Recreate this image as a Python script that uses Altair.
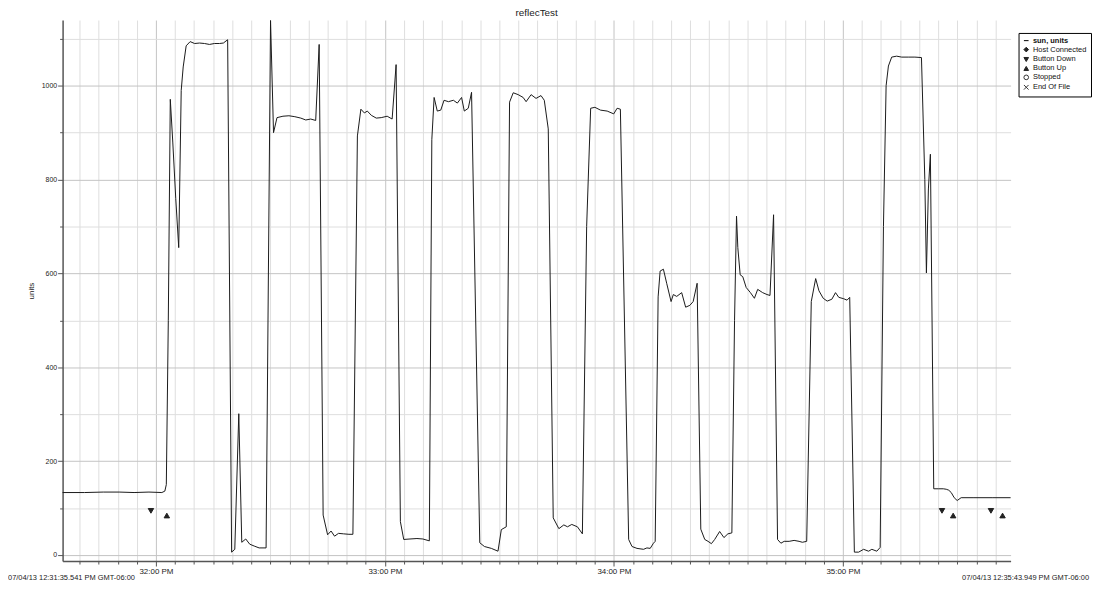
import altair as alt
import pandas as pd

# ---- sensor series: seconds after 12:31:00 PM, value in units ----
sun_sec = [35.54, 41.26, 46.20, 50.37, 54.27, 58.17, 61.55, 62.33, 62.72, 63.24, 63.76, 64.41,
           65.19, 65.97, 66.62, 67.14, 67.92, 68.96, 70.13, 71.43, 72.73, 74.03, 75.33, 76.63,
           77.67, 78.79, 79.83, 80.66, 81.71, 82.49, 83.53, 84.57, 85.74, 87.04, 88.86, 90.03,
           90.81, 91.72, 93.28, 94.84, 96.40, 97.96, 99.26, 100.56, 101.86, 102.77, 103.81,
           104.98, 105.89, 106.80, 107.84, 109.14, 110.57, 111.61, 112.79, 113.70, 114.61,
           115.39, 116.43, 117.73, 119.03, 120.59, 121.89, 122.93, 124.05, 124.93, 126.57,
           128.39, 129.95, 131.64, 132.29, 132.89, 133.72, 134.63, 135.49, 136.64, 137.94,
           138.98, 140.09, 140.80, 141.84, 142.70, 144.85, 146.07, 147.89, 149.63, 150.50,
           151.80, 152.66, 153.62, 154.92, 156.22, 157.00, 158.30, 159.60, 160.90, 161.76,
           162.80, 164.10, 165.58, 166.88, 167.84, 168.96, 170.44, 171.74, 172.86, 173.91,
           175.02, 176.50, 178.24, 179.96, 180.84, 181.70, 183.87, 184.75, 186.05, 187.77,
           188.65, 189.51, 190.37, 190.82, 191.59, 192.11, 192.97, 193.86, 194.98, 195.57,
           196.46, 197.76, 198.80, 199.91, 200.77, 201.81, 202.77, 203.81, 204.67, 205.55,
           206.41, 207.71, 208.83, 209.87, 210.91, 211.61, 212.13, 212.47, 213.09, 213.77,
           214.66, 215.78, 216.82, 217.68, 218.98, 220.12, 220.90, 221.84, 222.88, 223.76,
           224.62, 225.92, 227.22, 228.52, 229.38, 230.52, 231.72, 232.87, 233.73, 234.85,
           235.89, 237.11, 238.07, 238.93, 240.23, 241.09, 241.79, 243.01, 244.13, 245.43,
           246.73, 247.59, 248.89, 249.77, 250.63, 251.33, 251.93, 252.79, 254.09, 255.39,
           257.13, 258.87, 260.59, 261.47, 261.89, 262.41, 262.93, 263.81, 265.01, 266.31,
           267.09, 267.74, 268.39, 269.17, 269.95, 270.99, 274.11, 279.31, 283.95]
sun_val = [133, 133, 134, 134, 133, 134, 133, 136, 150, 500, 971, 880,
           760, 655, 990, 1040, 1085, 1094, 1090, 1091, 1090, 1088, 1090, 1090,
           1091, 1098, 6, 12, 301, 27, 34, 23, 19, 15, 15, 1139,
           900, 932, 935, 936, 934, 931, 927, 929, 926, 1088, 85,
           43, 51, 40, 46, 45, 44, 44, 893, 950, 942,
           946, 937, 931, 932, 935, 929, 1045, 71, 33, 34,
           35, 34, 30, 885, 975, 946, 948, 969, 966, 969,
           963, 975, 946, 952, 986, 26, 18, 14, 8, 54,
           60, 965, 985, 981, 975, 966, 981, 973, 979, 969,
           908, 79, 56, 64, 60, 65, 60, 45, 700, 952,
           954, 948, 946, 940, 952, 950, 33, 18, 14, 12,
           15, 14, 25, 29, 550, 605, 609, 578, 540, 555,
           551, 559, 528, 532, 540, 579, 55, 33, 29, 24,
           33, 50, 37, 45, 47, 500, 722, 655, 597, 593,
           570, 559, 547, 566, 559, 555, 553, 725, 33, 25,
           29, 29, 31, 29, 27, 29, 540, 589, 563, 547,
           541, 545, 559, 549, 546, 543, 549, 6, 6, 12,
           8, 12, 8, 16, 700, 1000, 1042, 1061, 1063, 1061,
           1061, 1061, 1060, 800, 601, 780, 854, 141, 141, 141,
           140, 138, 133, 122, 116, 122, 122, 122, 122]

# ---- event markers ----
evt_name = ["Button Down", "Button Up", "Button Down", "Button Up", "Button Down", "Button Up"]
evt_sec = [58.69, 62.85, 265.97, 268.90, 278.80, 281.84]
evt_val = [94, 84, 94, 84, 94, 84]

legend_names = ["sun, units", "Host Connected", "Button Down", "Button Up", "Stopped", "End Of File"]
legend_shapes = ["stroke", "diamond", "triangle-down", "triangle-up", "circle",
                 "M-1,-1L1,1M1,-1L-1,1"]
legend_fills = ["#000000", "#222222", "#222222", "#222222", "#ffffff", "transparent"]
legend_strokes = ["#000000", "#222222", "#222222", "#222222", "#333333", "#333333"]

y_ticks = list(range(0, 1101, 100))
x_ticks = list(range(40, 284, 5))
t_start = 35.541
t_end = 283.949
start_label = "07/04/13 12:31:35.541 PM GMT-06:00"
end_label = "07/04/13 12:35:43.949 PM GMT-06:00"

FONT = "Liberation Sans"

line_df = pd.DataFrame({"sec": sun_sec, "val": sun_val})
evt_df = pd.DataFrame({"sec": evt_sec, "val": evt_val, "event": evt_name})
start_df = pd.DataFrame({"sec": [t_start], "txt": [start_label]})
end_df = pd.DataFrame({"sec": [t_end], "txt": [end_label]})

x_scale = alt.Scale(domain=[t_start, t_end], nice=False, zero=False)
y_scale = alt.Scale(domain=[-13, 1140], nice=False, zero=False)

x_axis = alt.Axis(
    values=x_ticks,
    labelExpr="datum.value % 60 === 0 ? (31 + datum.value / 60) + ':00 PM' : ''",
    title=None,
    labelFontSize=8,
    labelPadding=2,
    labelFlush=False,
    labelOverlap=False,
    tickSize={"condition": {"test": "datum.value % 60 === 0", "value": 5}, "value": 3},
    gridColor={"condition": {"test": "datum.value % 60 === 0", "value": "#c4c4c4"}, "value": "#dedede"},
)
y_axis = alt.Axis(
    values=y_ticks,
    format="d",
    labelExpr="datum.value % 200 === 0 ? datum.label : ''",
    title="units",
    titleFontSize=8,
    titleFontWeight="normal",
    titlePadding=6,
    labelFontSize=7,
    labelPadding=1,
    labelOverlap=False,
    tickSize={"condition": {"test": "datum.value % 200 === 0", "value": 5}, "value": 3},
    gridColor={"condition": {"test": "datum.value % 200 === 0", "value": "#c4c4c4"}, "value": "#dedede"},
)

x_enc = alt.X("sec:Q", scale=x_scale, axis=x_axis)
y_enc = alt.Y("val:Q", scale=y_scale, axis=y_axis)

line = alt.Chart(line_df).mark_line(color="#1a1a1a", strokeWidth=1).encode(x=x_enc, y=y_enc)

legend = alt.Legend(
    title=None,
    orient="none",
    legendX=963,
    legendY=13,
    padding=4,
    strokeColor="#000000",
    fillColor="#ffffff",
    labelFontSize=7.5,
    labelFont=FONT,
    labelColor="#111111",
    labelFontWeight=alt.ExprRef("datum.label === 'sun, units' ? 'bold' : 'normal'"),
    symbolSize=22,
    symbolStrokeWidth=1,
    symbolOpacity=1,
    rowPadding=0,
    labelOffset=3,
)

points = alt.Chart(evt_df).mark_point(
    filled=True, size=30, strokeWidth=1, opacity=1
).encode(
    x=x_enc,
    y=y_enc,
    shape=alt.Shape("event:N", scale=alt.Scale(domain=legend_names, range=legend_shapes), legend=legend),
    fill=alt.Fill("event:N", scale=alt.Scale(domain=legend_names, range=legend_fills), legend=legend),
    stroke=alt.Stroke("event:N", scale=alt.Scale(domain=legend_names, range=legend_strokes), legend=legend),
)

start_text = alt.Chart(start_df).mark_text(
    align="left", baseline="middle", dx=-55, fontSize=7.5, font=FONT, color="#222222"
).encode(x=x_enc, y=alt.value(562), text="txt:N")
end_text = alt.Chart(end_df).mark_text(
    align="right", baseline="middle", dx=79, fontSize=7.5, font=FONT, color="#222222"
).encode(x=x_enc, y=alt.value(562), text="txt:N")

chart = alt.layer(line, points, start_text, end_text).properties(
    width=955,
    height=545,
    autosize=alt.AutoSizeParams(type="none"),
    padding={"left": 55, "top": 10, "right": 82, "bottom": 22},
    title=alt.Title("reflecTest", fontSize=10, fontWeight="normal", font=FONT,
                    anchor="middle", frame="group", offset=1, color="#222222"),
).configure_axis(
    labelFont=FONT,
    titleFont=FONT,
    labelColor="#222222",
    titleColor="#222222",
    domainColor="#555555",
    domainWidth=1.5,
    tickColor="#555555",
    grid=True,
).configure_view(stroke="transparent")

chart.save("out.html", embed_options={"renderer": "svg", "actions": False})
